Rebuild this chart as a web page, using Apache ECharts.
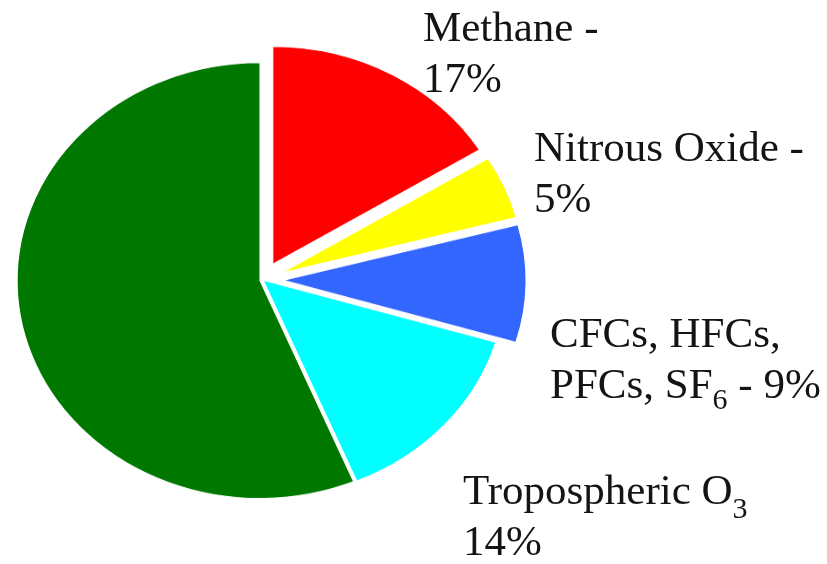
<!DOCTYPE html>
<html><head><meta charset="utf-8">
<script src="https://cdn.jsdelivr.net/npm/echarts@6/dist/echarts.min.js"></script>
<style>html,body{margin:0;padding:0;background:#fff;}
#wrap{position:relative;width:827px;height:564px;overflow:hidden;background:#fff}
#pie{position:absolute;left:0;top:0;width:827px;height:629px;transform:scaleY(0.8971);transform-origin:0 0}
#txt{position:absolute;left:0;top:0;width:827px;height:564px}
</style></head>
<body>
<div id="wrap"><div id="pie"></div><div id="txt"></div></div>
<script>
const categories = ['Methane', 'Nitrous Oxide', 'CFCs, HFCs, PFCs, SF6', 'Tropospheric O3', 'Carbon Dioxide'];
const values = [16.2, 4.7, 8.7, 14.1, 56.3];
const explode = [20, 20, 20, 0, 3];
const colors = ['#ff0000', '#ffff00', '#3366ff', '#00ffff', '#007800'];
// label lines as segments: [text, isSubscript]
const labelLines = [
  [[['Methane -', false]], [['17%', false]]],
  [[['Nitrous Oxide -', false]], [['5%', false]]],
  [[['CFCs, HFCs,', false]], [['PFCs, SF', false], ['6', true], [' - 9%', false]]],
  [[['Tropospheric O', false], ['3', true]], [['14%', false]]]
];
const labelX = [423, 534, 550, 463];
const labelBaseline = [43, 163, 349, 506];
const subDrop = [11, 11, 10, 13];

const groups = [...new Set(explode)];
const pie = echarts.init(document.getElementById('pie'), null, {renderer: 'canvas'});
pie.setOption({
  animation: false,
  series: groups.map(off => ({
    type: 'pie',
    center: [263, 312.1],
    radius: [0, 243],
    startAngle: 90,
    clockwise: true,
    silent: true,
    selectedMode: 'multiple',
    selectedOffset: off,
    label: {show: false},
    labelLine: {show: false},
    emphasis: {disabled: true},
    data: categories.map((c, i) => {
      const mine = explode[i] === off;
      return {
        name: c, value: values[i], selected: mine && off > 0,
        itemStyle: mine
          ? {color: colors[i], borderColor: '#ffffff', borderWidth: 1.2}
          : {color: 'rgba(0,0,0,0)', borderWidth: 0}
      };
    })
  }))
});

const FONT = 'Liberation Serif';
const MAIN = 43, SUB = 30, LINE = 51;
const mctx = document.createElement('canvas').getContext('2d');
function textWidth(t, fs) { mctx.font = fs + 'px ' + FONT; return mctx.measureText(t).width; }
// zrender draws 'top'-aligned single-line text with its middle at y + fs/2; baseline ~0.305em below middle
function topFromBaseline(b, fs) { return b - 0.805 * fs; }

const elements = [];
labelLines.forEach((lines, li) => {
  lines.forEach((segs, k) => {
    let x = labelX[li];
    const base = labelBaseline[li] + k * LINE;
    segs.forEach(([t, isSub]) => {
      const fs = isSub ? SUB : MAIN;
      const b = isSub ? base + subDrop[li] : base;
      elements.push({
        type: 'text', silent: true, x: x, y: topFromBaseline(b, fs),
        style: {text: t, fontFamily: FONT, fontSize: fs, lineHeight: fs, fill: '#141414', verticalAlign: 'top', align: 'left'}
      });
      x += textWidth(t, fs);
    });
  });
});

const txt = echarts.init(document.getElementById('txt'), null, {renderer: 'canvas'});
txt.setOption({animation: false, graphic: elements});
</script>
</body></html>
